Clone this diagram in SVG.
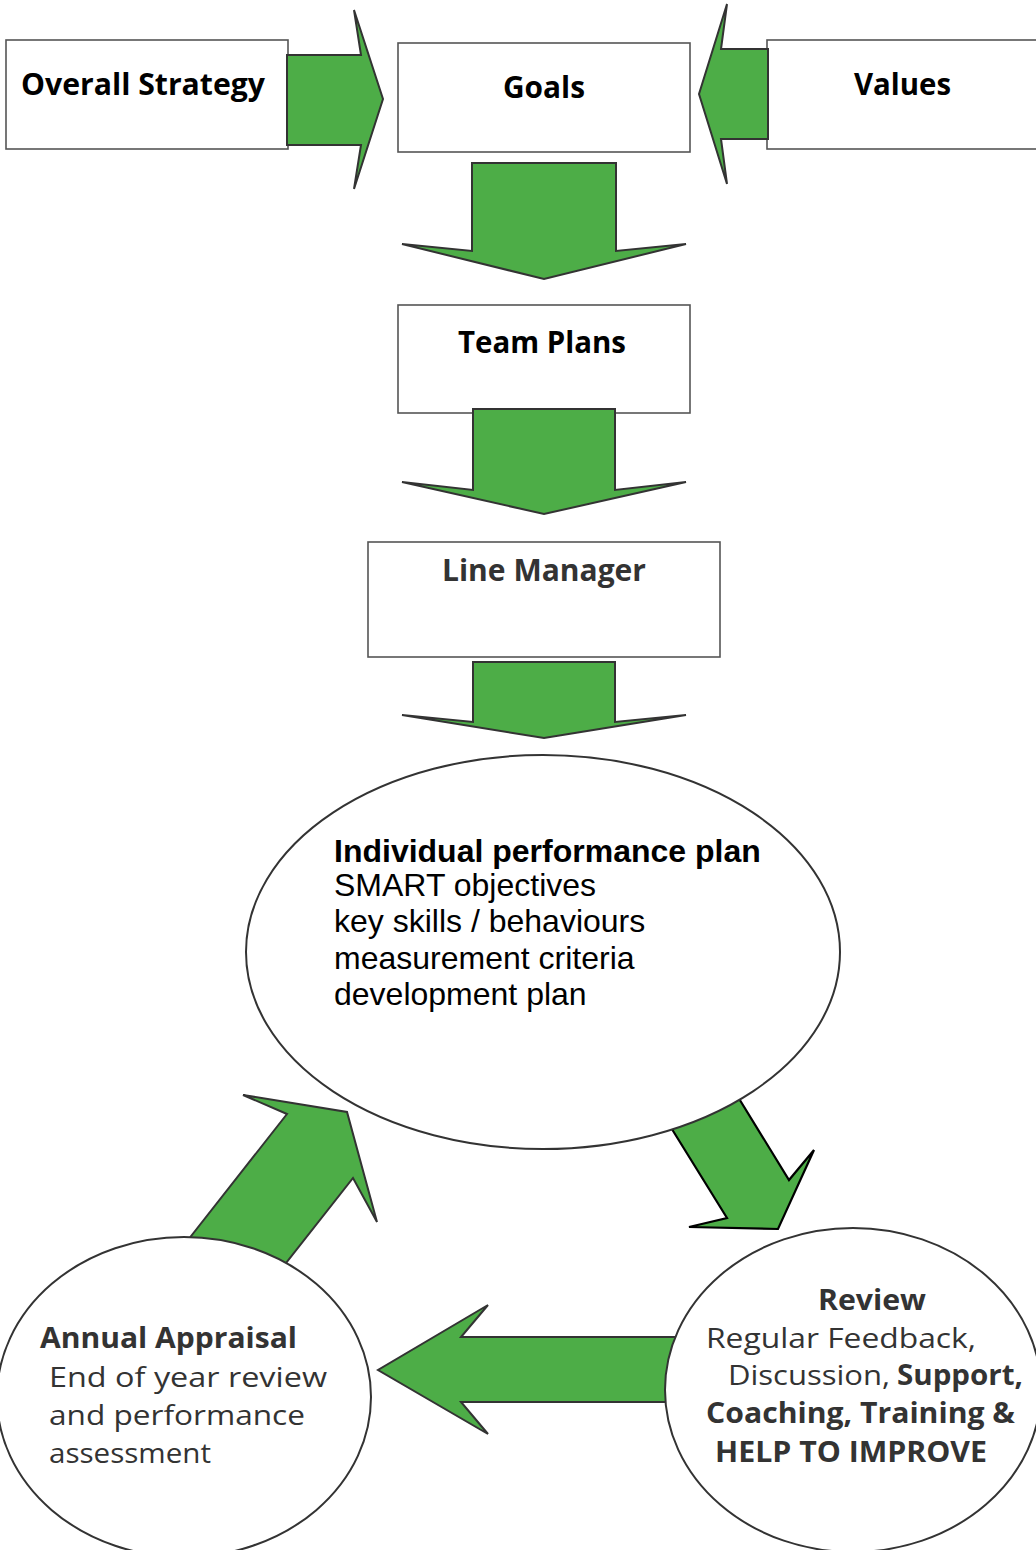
<svg xmlns="http://www.w3.org/2000/svg" width="1036" height="1550" viewBox="0 0 1036 1550">
  <style>
    .box{fill:#fff;stroke:#555;stroke-width:1.6}
    .oval{fill:#fff;stroke:#333;stroke-width:2}
    .arr{fill:#4dad47;stroke:#333;stroke-width:2;stroke-linejoin:miter;stroke-miterlimit:4}
    .arrk{fill:#4dad47;stroke:#000;stroke-width:2.2;stroke-linejoin:miter;stroke-miterlimit:4}
    .hd{font-family:"Open Sans","Noto Sans","Liberation Sans",sans-serif;font-weight:bold;font-size:31px;fill:#000}
    .hg{fill:#333}
    .fr{font-family:"Open Sans","Noto Sans","Liberation Sans",sans-serif;font-size:28px;fill:#333}
    .frb{font-weight:bold}
    .ar{font-family:"Liberation Sans",Arial,sans-serif;font-size:32px;fill:#000}
    .arb{font-weight:bold}
  </style>

  <!-- rectangular nodes -->
  <g id="overall-strategy">
    <rect class="box" x="6" y="40" width="282" height="109"/>
    <text class="hd" x="21" y="95" textLength="244" lengthAdjust="spacingAndGlyphs">Overall Strategy</text>
  </g>
  <g id="goals">
    <rect class="box" x="398" y="43" width="292" height="109"/>
    <text class="hd" x="503" y="98" textLength="82" lengthAdjust="spacingAndGlyphs">Goals</text>
  </g>
  <g id="values">
    <rect class="box" x="767" y="40" width="280" height="109"/>
    <text class="hd" x="854" y="95" textLength="97" lengthAdjust="spacingAndGlyphs">Values</text>
  </g>
  <g id="team-plans">
    <rect class="box" x="398" y="305" width="292" height="108"/>
    <text class="hd" x="458" y="353" textLength="168" lengthAdjust="spacingAndGlyphs">Team Plans</text>
  </g>
  <g id="line-manager">
    <rect class="box" x="368" y="542" width="352" height="115"/>
    <text class="hd hg" x="442" y="581" textLength="204" lengthAdjust="spacingAndGlyphs">Line Manager</text>
  </g>

  <!-- block arrows -->
  <g id="connectors">
    <polygon class="arr" points="287,55 361,55 354,10 383,99 354,189 361,145 287,145"/>
    <polygon class="arr" points="768,49 721,49 727,4 699,94 727,184 721,139 768,139"/>
    <polygon class="arr" points="472,163 616,163 616,251 686,244 544,279 402,244 472,251"/>
    <polygon class="arr" points="473,409 615,409 615,490 686,482 544,514 402,482 473,490"/>
    <polygon class="arr" points="473,662 615,662 615,722 686,715 544,738 402,715 473,722"/>
    <polygon class="arrk" points="657,1105 727,1218 689,1227 778,1229 814,1150 789,1180 727,1079"/>
    <polygon class="arr" points="700,1337 461,1337 488,1305 378,1370 488,1434 461,1402 700,1402"/>
    <polygon class="arr" points="177,1254 287,1114 243,1095 347,1112 377,1222 353,1178 275,1277"/>
  </g>

  <!-- oval nodes -->
  <g id="performance-plan">
    <ellipse class="oval" cx="543" cy="952" rx="297" ry="197"/>
    <text class="ar arb" x="334" y="862">Individual performance plan</text>
    <text class="ar" x="334" y="896">SMART objectives</text>
    <text class="ar" x="334" y="932">key skills / behaviours</text>
    <text class="ar" x="334" y="969">measurement criteria</text>
    <text class="ar" x="334" y="1005">development plan</text>
  </g>
  <g id="review">
    <ellipse class="oval" cx="853" cy="1390" rx="188" ry="162"/>
    <text class="fr frb" x="818" y="1310" textLength="108" lengthAdjust="spacingAndGlyphs">Review</text>
    <text class="fr" x="706" y="1348" textLength="270" lengthAdjust="spacingAndGlyphs">Regular Feedback,</text>
    <text class="fr" x="728" y="1385" textLength="162" lengthAdjust="spacingAndGlyphs">Discussion,</text>
    <text class="fr frb" x="897" y="1385" textLength="126" lengthAdjust="spacingAndGlyphs">Support,</text>
    <text class="fr frb" x="706" y="1423" textLength="309" lengthAdjust="spacingAndGlyphs">Coaching, Training &amp;</text>
    <text class="fr frb" x="715" y="1462" textLength="272" lengthAdjust="spacingAndGlyphs">HELP TO IMPROVE</text>
  </g>
  <g id="annual-appraisal">
    <ellipse class="oval" cx="184" cy="1397" rx="187" ry="160"/>
    <text class="fr frb" x="40" y="1348" textLength="257" lengthAdjust="spacingAndGlyphs">Annual Appraisal</text>
    <text class="fr" x="49" y="1387" textLength="278" lengthAdjust="spacingAndGlyphs">End of year review</text>
    <text class="fr" x="49" y="1425" textLength="256" lengthAdjust="spacingAndGlyphs">and performance</text>
    <text class="fr" x="49" y="1463" textLength="162" lengthAdjust="spacingAndGlyphs">assessment</text>
  </g>
</svg>
